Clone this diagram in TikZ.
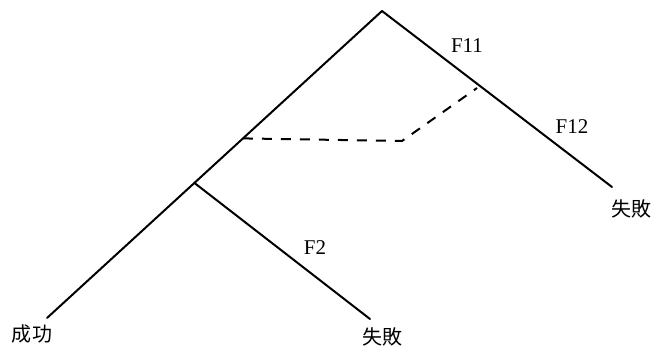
\documentclass[tikz,border=0pt]{standalone}
\usepackage{fontspec}
\setmainfont{Liberation Serif}
\newfontfamily\cjkfont{Noto Sans CJK JP}
\usetikzlibrary{calc, positioning}
\tikzset{
  branch/.style={line width=2pt, line cap=round},
  linkline/.style={line width=2pt, dash pattern=on 10pt off 9pt},
  factorlbl/.style={font=\fontsize{21}{21}\selectfont, inner sep=0pt},
  outcomelbl/.style={font=\cjkfont\fontsize{20}{20}\selectfont, inner sep=0pt}
}

\begin{document}
\begin{tikzpicture}[x=1pt, y=-1pt]
\useasboundingbox (0,0) rectangle (652,352);
% tree points
\coordinate (top) at (382,11);
\coordinate (succ) at (47,318);
\coordinate (failA) at (370,319);
\coordinate (failB) at (612,187);
\coordinate (split) at ($(top)!0.56!(succ)$);
\coordinate (dstart) at ($(top)!0.415!(succ)$);
\coordinate (dbend) at (402,141);
\coordinate (dend) at (477,88);
% branches
\draw[branch] (top) -- (succ);
\draw[branch] (top) -- (failB);
\draw[branch] (split) -- (failA);
\draw[linkline] (dstart) -- (dbend) -- (dend);
% labels
\node[factorlbl] (f11) at (467,46) {F11};
\node[factorlbl] (f12) at (572,127) {F12};
\node[factorlbl] (f2) at (315,248) {F2};
\node[outcomelbl] (lblB) at (631,209) {失敗};
\node[outcomelbl] (lblS) at (32,334) {成功};
\node[outcomelbl] (lblA) at (382,337) {失敗};
\end{tikzpicture}
\end{document}
